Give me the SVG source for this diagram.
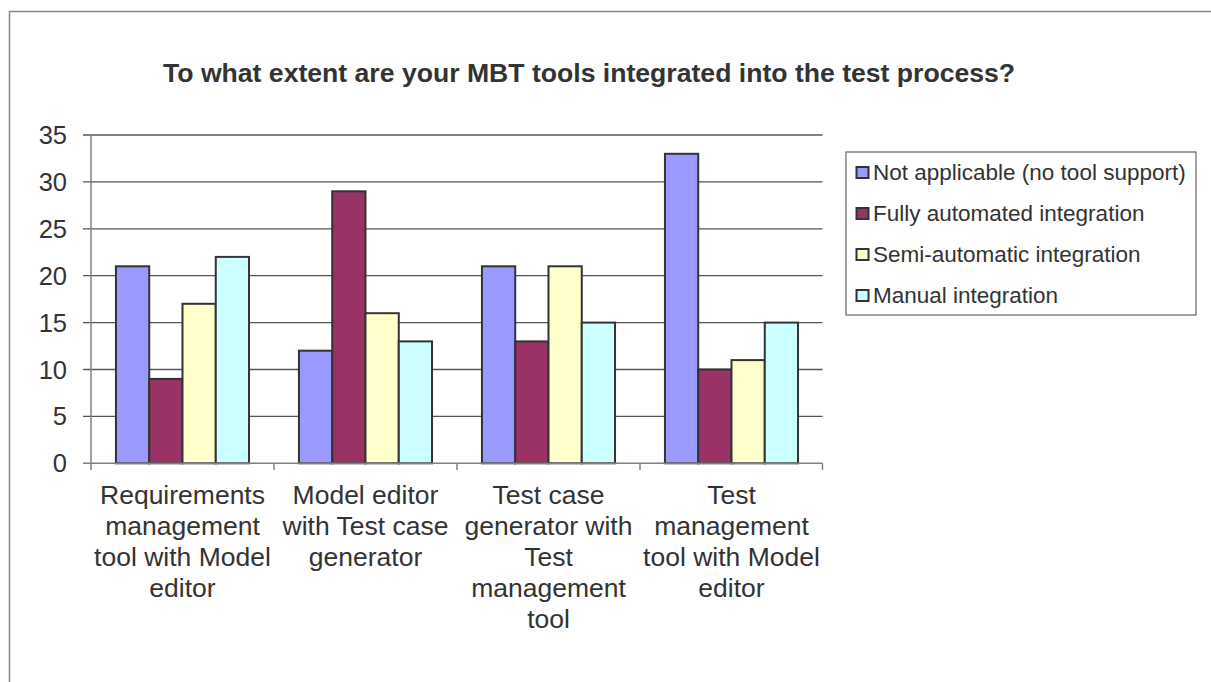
<svg xmlns="http://www.w3.org/2000/svg" width="1211" height="682" viewBox="0 0 1211 682">
<style>
.txt{font-family:"Liberation Sans",Arial,sans-serif;fill:#333333}
.title{font-size:26.6px;font-weight:bold}
.ax{font-size:25.5px}
.cat{font-size:26.5px;text-anchor:middle}
.leg{font-size:22.5px}
.grid{stroke:#555555;stroke-width:1.3}
.axis{stroke:#808080;stroke-width:1.5;fill:none}
.bar{stroke:#333333;stroke-width:2}
.s1{fill:#9999FF}
.s2{fill:#993366}
.s3{fill:#FFFFCC}
.s4{fill:#CCFFFF}
</style>
<rect x="0" y="0" width="1211" height="682" fill="#ffffff"/>
<g id="frame">
<path d="M9.5,690 L9.5,11.5 L1220,11.5" fill="none" stroke="#888888" stroke-width="1.5"/>
</g>
<g id="title">
<text class="txt title" x="163" y="82">To what extent are your MBT tools integrated into the test process?</text>
</g>
<g id="grid">
<line class="grid" x1="83" y1="135" x2="822.5" y2="135"/>
<line class="grid" x1="83" y1="181.9" x2="822.5" y2="181.9"/>
<line class="grid" x1="83" y1="228.8" x2="822.5" y2="228.8"/>
<line class="grid" x1="83" y1="275.7" x2="822.5" y2="275.7"/>
<line class="grid" x1="83" y1="322.6" x2="822.5" y2="322.6"/>
<line class="grid" x1="83" y1="369.5" x2="822.5" y2="369.5"/>
<line class="grid" x1="83" y1="416.4" x2="822.5" y2="416.4"/>
</g>
<g id="y-labels" class="txt ax" text-anchor="end">
<text x="67" y="144">35</text>
<text x="67" y="190.9">30</text>
<text x="67" y="237.8">25</text>
<text x="67" y="284.7">20</text>
<text x="67" y="331.6">15</text>
<text x="67" y="378.5">10</text>
<text x="67" y="425.4">5</text>
<text x="67" y="472.3">0</text>
</g>
<g id="series-not-applicable">
<rect class="bar s1" x="115.95" y="266.3" width="33.27" height="197"/>
<rect class="bar s1" x="298.95" y="350.7" width="33.27" height="112.6"/>
<rect class="bar s1" x="481.95" y="266.3" width="33.27" height="197"/>
<rect class="bar s1" x="664.95" y="153.8" width="33.27" height="309.5"/>
</g>
<g id="series-fully-automated">
<rect class="bar s2" x="149.22" y="378.9" width="33.27" height="84.4"/>
<rect class="bar s2" x="332.22" y="191.3" width="33.27" height="272"/>
<rect class="bar s2" x="515.22" y="341.4" width="33.27" height="121.9"/>
<rect class="bar s2" x="698.22" y="369.5" width="33.27" height="93.8"/>
</g>
<g id="series-semi-automatic">
<rect class="bar s3" x="182.49" y="303.8" width="33.27" height="159.5"/>
<rect class="bar s3" x="365.49" y="313.2" width="33.27" height="150.1"/>
<rect class="bar s3" x="548.49" y="266.3" width="33.27" height="197"/>
<rect class="bar s3" x="731.49" y="360.1" width="33.27" height="103.2"/>
</g>
<g id="series-manual">
<rect class="bar s4" x="215.76" y="256.9" width="33.27" height="206.4"/>
<rect class="bar s4" x="398.76" y="341.4" width="33.27" height="121.9"/>
<rect class="bar s4" x="581.76" y="322.6" width="33.27" height="140.7"/>
<rect class="bar s4" x="764.76" y="322.6" width="33.27" height="140.7"/>
</g>
<g id="axes">
<line class="axis" x1="91" y1="135" x2="91" y2="470"/>
<line class="axis" x1="83" y1="463.3" x2="822.5" y2="463.3"/>
<line class="axis" x1="274" y1="463.3" x2="274" y2="470"/>
<line class="axis" x1="457" y1="463.3" x2="457" y2="470"/>
<line class="axis" x1="640" y1="463.3" x2="640" y2="470"/>
<line class="axis" x1="822.5" y1="463.3" x2="822.5" y2="470"/>
</g>
<g id="cat-requirements" class="txt cat">
<text x="182.5" y="504">Requirements</text>
<text x="182.5" y="535">management</text>
<text x="182.5" y="566">tool with Model</text>
<text x="182.5" y="597">editor</text>
</g>
<g id="cat-model-editor" class="txt cat">
<text x="365.5" y="504">Model editor</text>
<text x="365.5" y="535">with Test case</text>
<text x="365.5" y="566">generator</text>
</g>
<g id="cat-test-case-generator" class="txt cat">
<text x="548.5" y="504">Test case</text>
<text x="548.5" y="535">generator with</text>
<text x="548.5" y="566">Test</text>
<text x="548.5" y="597">management</text>
<text x="548.5" y="628">tool</text>
</g>
<g id="cat-test-management" class="txt cat">
<text x="731.5" y="504">Test</text>
<text x="731.5" y="535">management</text>
<text x="731.5" y="566">tool with Model</text>
<text x="731.5" y="597">editor</text>
</g>
<g id="legend">
<rect x="846" y="152" width="350" height="163" fill="#ffffff" stroke="#666666" stroke-width="1.2"/>
<rect class="bar s1" x="856.5" y="167" width="12" height="11"/>
<rect class="bar s2" x="856.5" y="208" width="12" height="11"/>
<rect class="bar s3" x="856.5" y="249" width="12" height="11"/>
<rect class="bar s4" x="856.5" y="290" width="12" height="11"/>
<text class="txt leg" x="873" y="179.5">Not applicable (no tool support)</text>
<text class="txt leg" x="873" y="220.5">Fully automated integration</text>
<text class="txt leg" x="873" y="261.5">Semi-automatic integration</text>
<text class="txt leg" x="873" y="302.5">Manual integration</text>
</g>
</svg>
